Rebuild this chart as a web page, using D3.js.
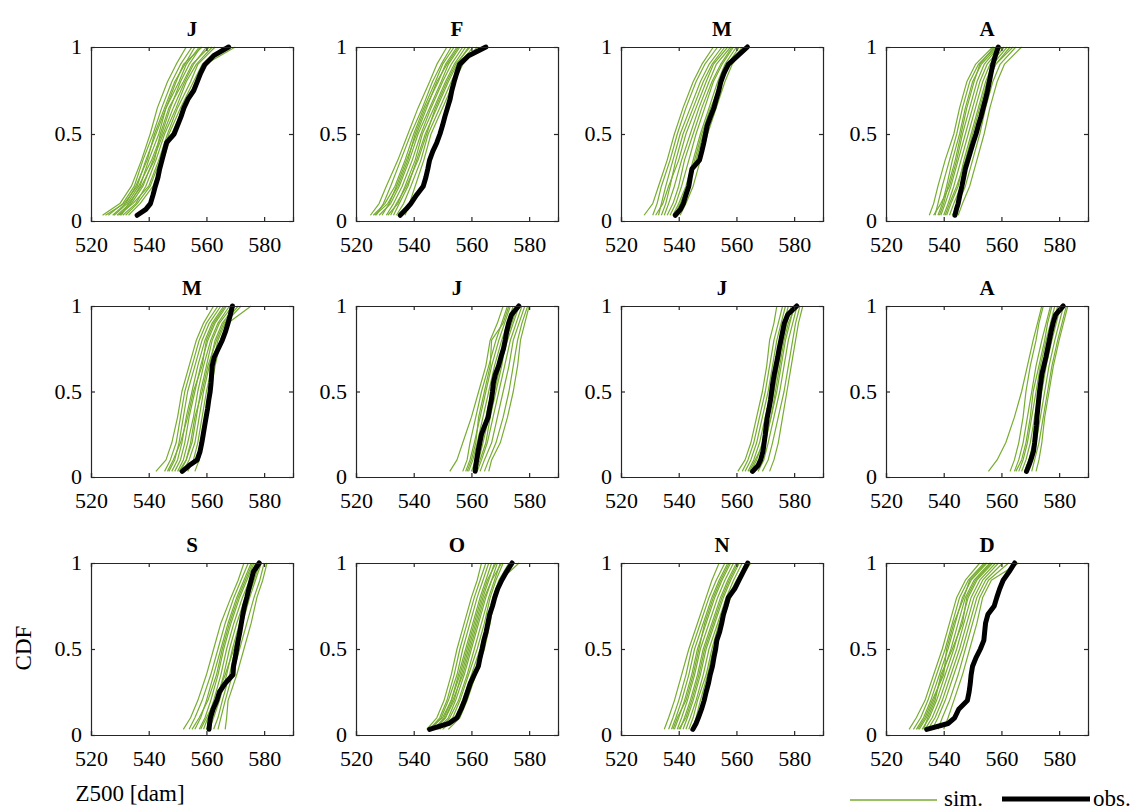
<!DOCTYPE html>
<html><head><meta charset="utf-8">
<script src="https://cdn.jsdelivr.net/npm/d3@7"></script>
<style>
body{margin:0;background:#fff}
svg text{font-family:"Liberation Serif","Times New Roman",serif;fill:#000}
</style>
</head><body>
<svg id="c" width="1142" height="812"></svg>
<script>
// ---------- data ----------
const months = ["J","F","M","A","M","J","J","A","S","O","N","D"];
const xTicks = [520,540,560,580];
const xTickLabels = ["520","540","560","580"];
const yTicks = [0,0.5,1];
const yTickLabels = ["0","0.5","1"];
const xLabel = "Z500 [dam]";
const yLabel = "CDF";
const legendLabels = ["sim.","obs."];

// CDF levels at which each simulated curve is read (x values below)
const simLevels = [0.033,0.1,0.2,0.35,0.5,0.65,0.8,0.9,1];
// CDF levels at which the observed curve is read
const obsLevels = [0.033,0.067,0.1,0.15,0.2,0.25,0.3,0.35,0.4,0.45,0.5,0.55,0.6,0.65,0.7,0.75,0.8,0.85,0.9,0.95,1];

const simJan = [
 [524,530,534,537.5,540.5,543,546.5,549.5,553],
 [526,531,535,538,541.5,544.5,548,551,555],
 [527.5,532,535.5,539.5,542,545.5,549,552.5,556],
 [529,533.5,537,540,543.5,546,550.5,553,557.5],
 [528,532.5,536.5,541,544.5,547.5,551,554,558],
 [530,534,538,541.5,545,548.5,552.5,555.5,560],
 [531,535.5,539,542.5,545.5,549.5,553,556.5,562],
 [529.5,534.5,540,543.5,546.5,550,554.5,557,563],
 [532,536,540.5,544,547,551,555.5,558.5,566],
 [533,537,541.5,545,548,552,556.5,559.5,570],
 [525,531.5,536,539,542.5,546,549.5,552,558.5],
 [530.5,533,537.5,542,544,547,552,555,561]
];
const simFeb = [
 [525,528,530.5,534.5,538,541.5,545.5,548,551.5],
 [527,529.5,532,535.5,539,543,546.5,549.5,553],
 [526,530,533.5,537,540,543.5,547.5,550,554],
 [529,531.5,534,537.5,541,544.5,548,551.5,555.5],
 [528,532,535,538.5,541.5,545.5,549.5,552,556],
 [530.5,533,536,539.5,542.5,546,550,553,557],
 [531,534.5,537,540.5,543,547,551,554,558],
 [533,535,538,541,544,548,552,555,559],
 [534,536.5,539,542.5,545,549,553,556,560.5],
 [537,538.5,540.5,543.5,546,550,554,557,562],
 [526.5,531,534.5,538,540.5,544,548.5,551,555],
 [532,534,537.5,541.5,544.5,547.5,551.5,554.5,559.5]
];
const simMar = [
 [528,531,533,536,538.5,541.5,545,548,552],
 [531,532.5,534,537,539.5,542.5,546,549,553.5],
 [533,534,535.5,538,540.5,544,547.5,550.5,555],
 [534,535.5,537,539,541.5,545,548.5,551.5,556],
 [532,534.5,536.5,540,542.5,546,549.5,552,557],
 [535,536.5,538.5,541,544,547,550.5,553,558],
 [537,539,541,543.5,546,549,552,555,559],
 [538,540,542.5,545,547.5,550.5,553.5,556,560],
 [539,541.5,543.5,546,548.5,551.5,554.5,557,561],
 [540.5,542.5,545,547.5,550,553,556,558.5,563],
 [536,538,540,542,545,548,551.5,554.5,558.5],
 [538.5,540.5,543,545.5,548,551,555,557.5,562]
];
const simApr = [
 [535,536.5,538,540.5,543.5,545.5,548,551,557],
 [537,538,539.5,542,544.5,546.5,549,552,558],
 [538,539.5,541,543,545.5,547.5,550,553,558.5],
 [536.5,539,542,544.5,546.5,549,551.5,554,559],
 [539,540.5,542.5,545,547.5,550,552.5,555,560],
 [540,541.5,543.5,546,548.5,551,553.5,556,561],
 [541,542.5,545,547,549.5,552,554.5,557,562],
 [542,543.5,546,548.5,551,553,555.5,558,563],
 [543,545,547.5,550,552.5,554.5,557,559.5,565],
 [545,546.5,549,551.5,554,556,558.5,561,567],
 [538.5,540,541.5,544,546,548,550.5,552.5,557.5],
 [540.5,542,544.5,547.5,550,552.5,555,558,564]
];
const simMay = [
 [542.5,546,548,550,551.5,554,556.5,559,562.5],
 [545.5,547.5,549.5,551,552.5,555,557.5,560,564],
 [547,549,550.5,552,553.5,556,558.5,561,565],
 [548,550,551.5,553,555,557,559.5,562,566],
 [549,551,552.5,554,556,558,560.5,563,567],
 [550,552,553.5,555.5,557,559,561.5,564,568],
 [551,553,555,556.5,558,560,562,564.5,569],
 [552,554,556,557.5,559,561,563,565.5,570],
 [553.5,555.5,557,558.5,560,562,564,566.5,572],
 [556,557.5,558.5,560,561.5,563,565,567.5,575.5],
 [546.5,548.5,551,553.5,555.5,558.5,560,562.5,566.5],
 [550.5,553,554.5,556,558.5,560.5,563.5,566,571]
];
const simJun = [
 [552.5,555,557,560,562.5,565,566.5,569,571],
 [557,558.5,559.5,561.5,563.5,566,568.5,570.5,572.5],
 [558,559.5,561,563,565,567,569.5,571.5,573.5],
 [559,560.5,562,564,566,568,570.5,572.5,574.5],
 [560,561.5,563,565,567,569,571.5,573.5,575.5],
 [561,562.5,564,566,568,570,572.5,574.5,576.5],
 [562,563.5,565.5,567.5,569.5,571.5,573.5,575.5,577.5],
 [563,564.5,567,569,571,573,574.5,576.5,578.5],
 [564.5,566,568.5,571,573,574.5,576,577.5,579.5],
 [566,567,570,572.5,574.5,576,577,578.5,580],
 [558.5,560,561.5,562.5,564.5,566.5,567,571,573],
 [561.5,563,565,566.5,568.5,570.5,572,574,576]
];
const simJul = [
 [560.5,563,565,567,569,570.5,571.5,573,574],
 [562,564,566,568,570,571.5,573,574.5,576],
 [563,565,567,569,571,572.5,574,575.5,577],
 [564,566,568,570,572,573.5,575,576.5,578],
 [565,567,569,571,573,574.5,576,577.5,579],
 [566,568,570,572,574,575.5,577,578.5,580],
 [567.5,569.5,571,573,575,576.5,578,579.5,581],
 [569,571,572.5,574.5,576.5,578,579.5,580.5,582],
 [571.5,573,574.5,576,577.5,579,580.5,581.5,583],
 [564.5,566.5,569.5,572,573.5,575,576.5,578,580.5]
];
const simAug = [
 [555.5,558.5,561.5,564.5,567,569,571,572.5,574],
 [563,564.5,566,567.5,568.5,570,572,573,574.5],
 [564.5,566,567.5,569,570.5,572,574,575.5,577],
 [566,567.5,569,570.5,572,573.5,575.5,577,578.5],
 [567,568.5,570,571.5,573,574.5,576.5,578,579.5],
 [568,569.5,571,572.5,574,575.5,577.5,579,580.5],
 [569,570.5,572,573.5,575,576.5,578.5,580,581.5],
 [570.5,571.5,573,574.5,576,577.5,579.5,581,582.5],
 [572,573,574,575,576.5,578,580,581.5,583],
 [565,567,568.5,570,571,573,575,576,577.5]
];
const simSep = [
 [552,554.5,557,560,562.5,565,568.5,571,573],
 [554,556,558.5,561.5,564,566.5,569.5,572,574.5],
 [556,558,560,562.5,565,567.5,570.5,573,575.5],
 [557.5,559.5,561.5,564,566,568.5,571.5,574,576.5],
 [559,560.5,562.5,565,567,569.5,572.5,575,577],
 [560,561.5,563.5,566,568,570.5,573.5,575.5,577.5],
 [561,562.5,564.5,567,569,571.5,574.5,576.5,578.5],
 [562.5,564,565.5,568,570,572.5,575,577,579],
 [564,565,566.5,569,571.5,574,576.5,578.5,580],
 [566.5,567,567.5,570.5,573,575.5,577.5,579.5,581],
 [555,557.5,560.5,563.5,565.5,568,571,573.5,576],
 [558,560,563,566.5,569.5,572,574,576,578]
];
const simOct = [
 [544.5,548,550.5,553,555,557.5,560,562,563.5],
 [545.5,549,551.5,554,556,558.5,561,563,565],
 [546,549.5,552,555,557,559.5,562,564,566],
 [547,550.5,553,555.5,558,560.5,563,565,567],
 [546.5,551,554,556.5,559,561.5,564,566,568],
 [548,552,554.5,557.5,560,562.5,565,567,569],
 [549,552.5,555.5,558.5,561,563.5,566,568,570],
 [548.5,553.5,556,559,562,564.5,566.5,568.5,571],
 [550,554.5,557,560,563,565.5,567.5,569.5,573],
 [552,556,558.5,561.5,564.5,566.5,568,570,576.5],
 [545,550,553,556,558.5,561,563.5,565.5,568.5],
 [547.5,551,553.5,557,559.5,562,564.5,567,570.5]
];
const simNov = [
 [535,536.5,538.5,541,543.5,546.5,549.5,551.5,554],
 [536.5,538,540,542.5,544.5,547.5,550.5,553,556],
 [537.5,539,541,543.5,545.5,548.5,551.5,554,557],
 [538.5,540,542,544.5,546.5,549.5,552.5,555,558],
 [539.5,541,543,545.5,547.5,550.5,553.5,556,559],
 [540.5,542,544,546.5,548.5,551.5,554.5,557,560],
 [541.5,543,545,547.5,549.5,552.5,555.5,558,561],
 [542.5,544,546,548.5,550.5,553.5,556.5,559,562],
 [543.5,545,546.5,549.5,551.5,554,557,560,563.5],
 [545,546,547.5,550,552,555,558,561,565],
 [538,539.5,542.5,545,547,549,552,554.5,557.5],
 [540,542.5,544.5,547,549,552,555,557.5,560.5]
];
const simDec = [
 [528,530.5,533.5,536.5,539.5,542,544.5,547.5,552.5],
 [529.5,532,534.5,537.5,540.5,543,545.5,548.5,554],
 [530.5,533,535.5,538.5,541.5,544,546.5,549.5,555],
 [531.5,534,536.5,539.5,542.5,545,547.5,550.5,556],
 [532.5,535,537.5,540.5,543.5,546,548.5,551.5,557],
 [533.5,536,538.5,541.5,544.5,547,549.5,552.5,558],
 [534.5,537,539.5,542.5,545.5,548,550.5,553.5,559],
 [536,538,540.5,543.5,546.5,549,551.5,554.5,560.5],
 [538,539.5,542,545,547.5,550,552.5,555.5,562.5],
 [540,541.5,543.5,546.5,549,551.5,553.5,556.5,566],
 [531,533.5,536,540,541,543.5,547,549,554.5],
 [533,534.5,537,539,543,546.5,548,551,556.5]
];

const obsJan = [536,539,540.6,541.5,542.3,543.2,543.8,544.6,545.4,546.2,548.8,550,551.2,552.2,553.6,555.6,556.8,558,559.5,562.5,567.7];
const obsFeb = [535.3,537.3,539,541,543.3,544.2,544.9,545.5,546.6,548,549.1,550,550.8,551.7,552.6,553.2,554,554.9,555.9,559,565];
const obsMar = [538.8,540.6,541.6,542.5,543.5,544,544.6,547.2,548,548.7,549.3,549.9,551,552.2,553,553.9,554.6,555.7,557.2,560.5,563.8];
const obsApr = [543.9,544.4,545,545.6,546.3,546.9,547.5,548.4,549.3,550.2,551.2,552,552.9,553.7,554.5,555.2,555.8,556.4,557,557.9,558.9];
const obsMay = [551.6,554,556.8,557.8,558.4,558.9,559.4,559.9,560.4,560.8,561.3,561.6,561.8,562,562.7,564.1,565.5,566.6,567.5,568.3,569];
const obsJun = [561.3,561.5,561.8,562.3,562.9,563.5,564.6,565.8,566.3,566.9,567.3,567.6,568.3,569.4,570.2,571.1,571.7,572.2,572.9,573.9,576.4];
const obsJul = [565.6,567.5,568.4,569.2,569.6,570,570.3,570.7,571.3,571.8,572.2,572.6,573.1,573.7,574.3,574.8,575.4,576,576.6,577.8,580.9];
const obsAug = [568.7,569.5,570.2,571.1,571.5,571.8,572.1,572.3,572.6,572.9,573.2,573.6,574,574.7,575.4,576,576.6,577.2,577.9,578.8,581.4];
const obsSep = [560.9,561.1,561.4,562.3,563.6,564.5,566.5,569.2,569.4,570,570.5,571,571.6,572.1,572.6,573.2,574,574.7,575.5,576.3,578.3];
const obsOct = [545.5,552.2,555,556.4,557.6,558.6,559.6,561,562.4,563,563.7,564.3,565.1,565.7,566.3,567.3,568.1,569.1,570.5,572.2,574.1];
const obsNov = [544.9,546,546.8,547.9,548.8,549.5,550.3,550.9,551.7,552.2,552.8,553.2,554.2,554.9,555.5,556.4,557.2,559.4,560.9,562.4,563.9];
const obsDec = [534.1,541.5,543.8,545.2,548.2,548.8,549.2,549.5,550,551.2,552.7,553.9,554.2,554.5,555.3,557.5,558.4,559.4,560.6,562.7,564.6];

const simAll = [simJan,simFeb,simMar,simApr,simMay,simJun,simJul,simAug,simSep,simOct,simNov,simDec];
const obsAll = [obsJan,obsFeb,obsMar,obsApr,obsMay,obsJun,obsJul,obsAug,obsSep,obsOct,obsNov,obsDec];

// ---------- layout ----------
const colLeft = [91,356,621,886];
const panelW = 202;
const rowBox = [[47,221],[306,477],[563,735]];
const green = "#77AC30";
const axisColor = "#262626";
const serif = '"Liberation Serif","Times New Roman",serif';

const svg = d3.select("#c");

months.forEach((m,i)=>{
  const r = Math.floor(i/4), c = i%4;
  const x0 = colLeft[c], y0 = rowBox[r][0], y1 = rowBox[r][1];
  const x = d3.scaleLinear().domain([520,590]).range([x0, x0+panelW]);
  const y = d3.scaleLinear().domain([0,1]).range([y1, y0]);
  const g = svg.append("g");

  const line = d3.line().x(d=>x(d[0])).y(d=>y(d[1]));

  simAll[i].forEach(s=>{
    g.append("path").datum(s.map((v,k)=>[v,simLevels[k]]))
      .attr("d", line).attr("fill","none").attr("stroke",green)
      .attr("stroke-width",1.2).attr("stroke-linejoin","round");
  });
  g.append("path").datum(obsAll[i].map((v,k)=>[v,obsLevels[k]]))
    .attr("d", line).attr("fill","none").attr("stroke","#000")
    .attr("stroke-width",5).attr("stroke-linejoin","round").attr("stroke-linecap","round");

  // axes (inward ticks, boxed)
  const ax = g.append("g").attr("transform",`translate(0,${y1})`)
    .call(d3.axisBottom(x).tickValues(xTicks).tickSize(-4).tickPadding(0).tickFormat((d,k)=>xTickLabels[k]));
  const axT = g.append("g").attr("transform",`translate(0,${y0})`)
    .call(d3.axisTop(x).tickValues(xTicks).tickSize(-4).tickFormat(""));
  const ay = g.append("g").attr("transform",`translate(${x0},0)`)
    .call(d3.axisLeft(y).tickValues(yTicks).tickSize(-4).tickFormat((d,k)=>yTickLabels[k]));
  const ayR = g.append("g").attr("transform",`translate(${x0+panelW},0)`)
    .call(d3.axisRight(y).tickValues(yTicks).tickSize(-4).tickFormat(""));
  [ax,axT,ay,ayR].forEach(a=>{
    a.attr("font-family", null).attr("font-size", null);
    a.selectAll(".domain").attr("stroke",axisColor).attr("stroke-width",1.2);
    a.selectAll(".tick line").attr("stroke",axisColor).attr("stroke-width",1.2);
    a.selectAll("text").style("font-family",serif).style("font-size","22px").attr("fill","#000");
  });
  ax.selectAll(".tick text").attr("y",31).attr("dy",null);
  ay.selectAll(".tick text").attr("x",-9).attr("dy","0.3em");

  g.append("text").attr("x", x0+panelW/2).attr("y", y0-11)
    .attr("text-anchor","middle").style("font-size","21px").attr("font-weight","bold").text(m);
});

// axis labels
svg.append("text").attr("x",130).attr("y",801).attr("text-anchor","middle")
  .style("font-size","23px").text(xLabel);
svg.append("text").attr("transform","translate(31,648) rotate(-90)")
  .attr("text-anchor","middle").style("font-size","23px").text(yLabel);

// legend
const lg = svg.append("g");
lg.append("line").attr("x1",850).attr("x2",937).attr("y1",800).attr("y2",800)
  .attr("stroke",green).attr("stroke-width",1.5);
lg.append("text").attr("x",944).attr("y",806).style("font-size","23px").text(legendLabels[0]);
lg.append("line").attr("x1",1002).attr("x2",1090).attr("y1",799).attr("y2",799)
  .attr("stroke","#000").attr("stroke-width",5);
lg.append("text").attr("x",1093).attr("y",806).style("font-size","23px").text(legendLabels[1]);
</script>
</body></html>
